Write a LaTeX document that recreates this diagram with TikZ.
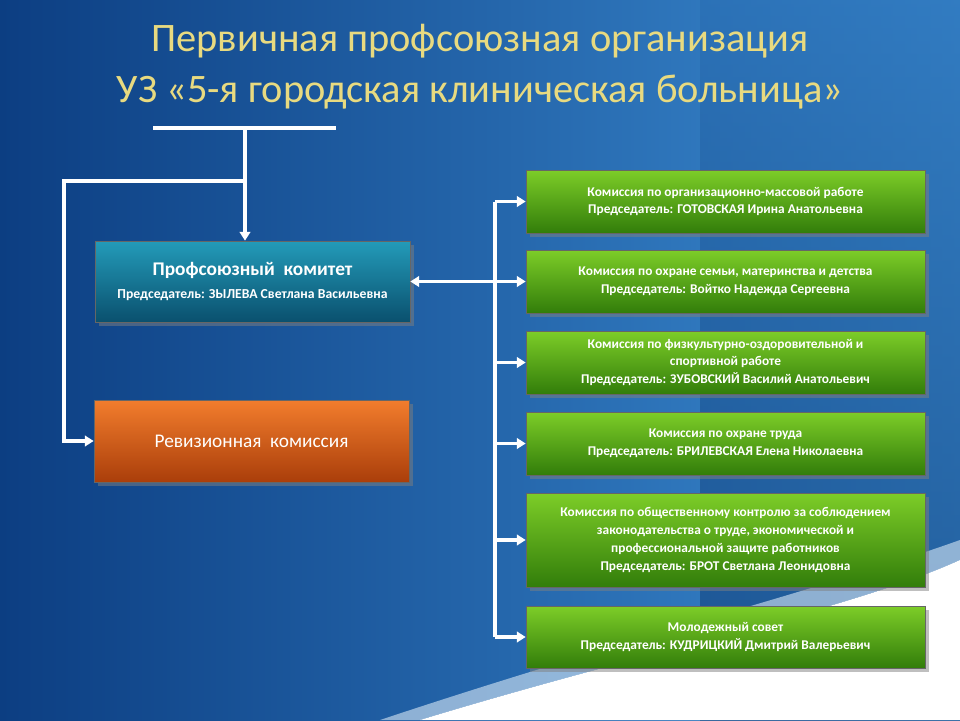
\documentclass[tikz,border=0pt]{standalone}
\usepackage{fontspec}
\setmainfont{Carlito}
\usetikzlibrary{positioning,arrows.meta,shadows}
\definecolor{bgdark}{RGB}{12,62,130}
\definecolor{bglight}{RGB}{60,140,210}
\definecolor{titlegold}{RGB}{232,218,128}
\definecolor{verdealto}{RGB}{125,205,40}
\definecolor{verdebasso}{RGB}{50,125,10}
\definecolor{tealalto}{RGB}{35,155,185}
\definecolor{tealbasso}{RGB}{10,80,110}
\definecolor{arancioalto}{RGB}{242,125,45}
\definecolor{aranciobasso}{RGB}{170,62,10}
\begin{document}
\begin{tikzpicture}[x=0.02cm,y=-0.02cm]
    % Stili per i nodi
    \tikzstyle{comitato}=[rectangle, draw=black!60, top color=tealalto, bottom color=tealbasso, text=white, minimum width=315*0.02cm, minimum height=81*0.02cm, align=center, font=\bfseries, drop shadow]
    \tikzstyle{revisione}=[rectangle, draw=black!60, top color=arancioalto, bottom color=aranciobasso, text=white, minimum width=315*0.02cm, minimum height=82*0.02cm, align=center, font=\fontsize{11}{13}\selectfont, drop shadow]
    \tikzstyle{commissione}=[rectangle, draw=black!60, top color=verdealto, bottom color=verdebasso, text=white, minimum width=399*0.02cm, align=center, font=\fontsize{7.6}{10.2}\selectfont\bfseries, drop shadow]
    \tikzstyle{freccia}=[-{Triangle[width=6pt,length=5pt]}, white, line width=2pt]
    \tikzstyle{linea}=[white, line width=2pt]
    % Sfondo
    \shade[left color=bgdark, right color=bglight] (0,0) rectangle (960,720);
    \shade[top color=bglight!60!bgdark, bottom color=bgdark!80!black, opacity=0.5] (700,0) rectangle (960,720);
    \fill[white] (420,720) .. controls (650,650) and (850,610) .. (960,560) -- (960,720) -- cycle;
    \fill[white!80!bglight, opacity=0.6] (380,720) .. controls (620,640) and (820,590) .. (960,540) -- (960,560) .. controls (850,610) and (650,650) .. (420,720) -- cycle;
    % Titolo
    \node[text=titlegold, font=\fontsize{23}{29}\selectfont, align=center] (titolo) at (480,67) {Первичная профсоюзная организация\\УЗ «5-я городская клиническая больница»};
    % Nodi a sinistra
    \node[comitato] (komitet) at (252.5,281.5) {\fontsize{11}{13}\selectfont Профсоюзный\ \ комитет\\[1pt]\fontsize{7.8}{10}\selectfont Председатель: ЗЫЛЕВА Светлана Васильевна};
    \node[revisione] (revizia) at (251.5,441) {Ревизионная\ \ комиссия};
    % Commissioni
    \node[commissione, minimum height=63*0.02cm] (k1) at (725.5,201.5) {Комиссия по организационно-массовой работе\\Председатель: ГОТОВСКАЯ Ирина Анатольевна};
    \node[commissione, minimum height=63*0.02cm] (k2) at (725.5,281.5) {Комиссия по охране семьи, материнства и детства\\Председатель: Войтко Надежда Сергеевна};
    \node[commissione, minimum height=63*0.02cm] (k3) at (725.5,362.5) {Комиссия по физкультурно-оздоровительной и\\спортивной работе\\Председатель: ЗУБОВСКИЙ Василий Анатольевич};
    \node[commissione, minimum height=63*0.02cm] (k4) at (725.5,443.5) {Комиссия по охране труда\\Председатель: БРИЛЕВСКАЯ Елена Николаевна};
    \node[commissione, minimum height=94*0.02cm] (k5) at (725.5,540) {Комиссия по общественному контролю за соблюдением\\законодательства о труде, экономической и\\профессиональной защите работников\\Председатель: БРОТ Светлана Леонидовна};
    \node[commissione, minimum height=62*0.02cm] (k6) at (725.5,637) {Молодежный совет\\Председатель: КУДРИЦКИЙ Дмитрий Валерьевич};
    % Collegamenti dal vertice
    \coordinate (barA) at (153,128);
    \coordinate (barB) at (336,128);
    \coordinate (nodo) at (245,128);
    \coordinate (ramo) at (245,181);
    \draw[linea] (barA) -- (barB);
    \draw[freccia] (nodo) -- (komitet.north -| nodo);
    \draw[freccia] (ramo) -- (64,181) |- (revizia.west);
    % Bus verso le commissioni
    \coordinate (busTop) at (495,201.5);
    \coordinate (busBot) at (495,637);
    \draw[linea] (busTop) -- (busBot);
    \draw[{Triangle[width=6pt,length=5pt]}-{Triangle[width=6pt,length=5pt]}, white, line width=2pt] (komitet.east) -- (k2.west);
    \foreach \k in {k1,k3,k4,k5,k6}
        \draw[freccia] (\k.west -| busTop) -- (\k.west);
\end{tikzpicture}
\end{document}
